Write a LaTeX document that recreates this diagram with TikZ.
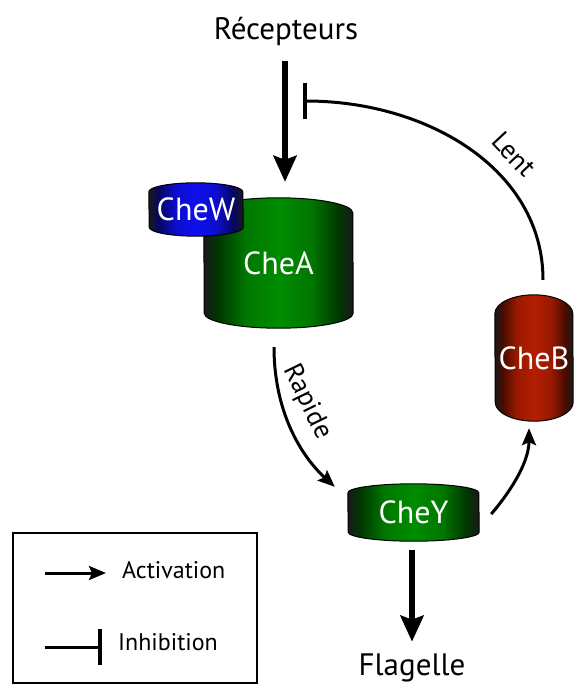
\documentclass[tikz,border=0pt]{standalone}
\usepackage{fontspec}
\setmainfont{PT Sans}
\usetikzlibrary{arrows.meta}
\usetikzlibrary{backgrounds}

\pgfdeclarehorizontalshading[barrelmid]{barrelshade}{100bp}{color(0bp)=(black); color(25bp)=(black!90); color(30bp)=(barrelmid!40!black); color(39bp)=(barrelmid!85!black); color(50bp)=(barrelmid); color(61bp)=(barrelmid!85!black); color(70bp)=(barrelmid!40!black); color(75bp)=(black!90); color(100bp)=(black)}

% barrel behind a node: name, colour, x radius, y radius
\newcommand\barrel[4]{%
\colorlet{barrelmid}{#2}
\shade[shading=barrelshade, draw=black, line width=1pt]
  ([yshift=-#4]#1.north west) arc[start angle=180, end angle=0, x radius=#3, y radius=#4]
  -- ([yshift=#4]#1.south east) arc[start angle=0, end angle=-180, x radius=#3, y radius=#4] -- cycle;}

\definecolor{cheagreen}{RGB}{0,140,0}
\definecolor{chewblue}{RGB}{15,15,240}
\definecolor{chebred}{RGB}{180,30,0}

\begin{document}
\begin{tikzpicture}[x=1pt, y=-1pt,
  protein/.style={text=white, inner sep=0pt, font=\fontsize{32}{38}\selectfont},
  title/.style={inner sep=0pt, font=\fontsize{31}{37}\selectfont},
  small/.style={inner sep=0pt, font=\fontsize{24}{28}\selectfont},
  curved/.style={inner sep=0pt, font=\fontsize{27}{32}\selectfont},
  fat/.style={line width=5.5pt, -{Stealth[length=26pt, width=23pt, inset=4pt]}},
  slim/.style={line width=3pt, -{Stealth[length=17pt, width=14pt, inset=3pt]}},
  block/.style={line width=3pt, -{Bar[width=36pt, line width=4pt]}}]
\useasboundingbox (0,0) rectangle (574,686);

\node[title] (rec) at (286,31) {Récepteurs};
\node[protein, minimum width=149pt, minimum height=130pt] (chea) at (278.5,263) {CheA};
\node[protein, minimum width=94pt, minimum height=53pt] (chew) at (196,209.5) {CheW};
\node[protein, minimum width=78pt, minimum height=126pt] (cheb) at (534,358) {CheB};
\node[protein, minimum width=131pt, minimum height=57pt] (chey) at (413.5,512.5) {CheY};
\node[title] (flag) at (412,668) {Flagelle};

\begin{scope}[on background layer]
\barrel{chea}{cheagreen}{74.5pt}{15pt}
\barrel{chew}{chewblue}{47pt}{9pt}
\barrel{cheb}{chebred}{39pt}{19pt}
\barrel{chey}{cheagreen}{65.5pt}{9pt}
\end{scope}

% signalling
\draw[fat] ([xshift=-1pt,yshift=-16pt]rec.south) -- ([xshift=6.5pt,yshift=16pt]chea.north);
\draw[slim] ([xshift=-4.5pt,yshift=-19pt]chea.south) .. controls +(0,63) and +(-35,-32) .. ([xshift=-13pt,yshift=-3pt]chey.north west);
\node[curved, rotate=-64] (rapide) at (307,402) {Rapide};
\draw[slim] ([xshift=12pt,yshift=-1.5pt]chey.east) .. controls +(14,-16) and +(0,37) .. ([xshift=-5pt,yshift=-7pt]cheb.south);
\coordinate (stop) at (303,101);
\draw[block] ([xshift=9pt,yshift=15pt]cheb.north) .. controls +(0,-110) and +(125,0) .. (stop);
\node[curved, rotate=-47] (lent) at (514,154) {Lent};
\draw[fat] ([xshift=-1.5pt,yshift=-9pt]chey.south) -- ([yshift=12pt]flag.north);

% legend
\node[draw, line width=1.5pt, minimum width=244pt, minimum height=150pt] (legend) at (135,608) {};
\coordinate (acta) at (45,573);
\coordinate (actb) at (106,573);
\coordinate (inha) at (45,647);
\coordinate (inhb) at (102,647);
\draw[slim] (acta) -- (actb);
\draw[block] (inha) -- (inhb);
\node[small, anchor=base west] (acttext) at (122,578) {Activation};
\node[small, anchor=base west] (inhtext) at (118,650) {Inhibition};
\end{tikzpicture}
\end{document}
